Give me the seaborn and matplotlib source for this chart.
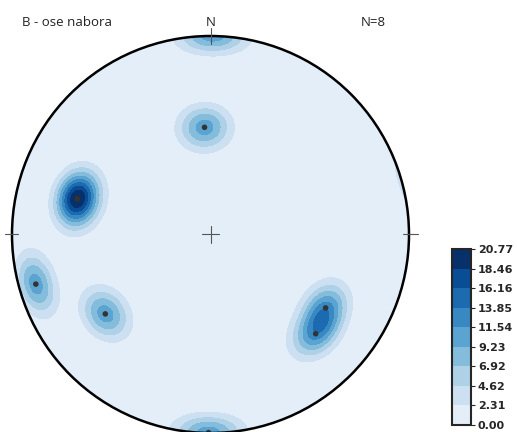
import numpy as np
import matplotlib
matplotlib.use("Agg")
import matplotlib.pyplot as plt
import seaborn as sns
from matplotlib.colors import ListedColormap, BoundaryNorm
from matplotlib.cm import ScalarMappable
from matplotlib.patches import Circle

# poles in the equal-area net (unit circle, x = east, y = north)
pole_x = [-0.03, -0.67, -0.67, -0.88, -0.53, 0.58, 0.53, -0.01]
pole_y = [0.54, 0.18, 0.18, -0.25, -0.40, -0.37, -0.50, -0.998]
title = "B - ose nabora"
n_label = "N=8"
dens_max = 20.772
n_bands = 9


def to_vec(x, y):
    # inverse Lambert equal-area, lower hemisphere
    x = np.asarray(x, float)
    y = np.asarray(y, float)
    rho = np.clip(np.hypot(x, y), 0, 1)
    theta = 2 * np.arcsin(rho / np.sqrt(2))
    phi = np.arctan2(y, x)
    return np.stack([np.sin(theta) * np.cos(phi),
                     np.sin(theta) * np.sin(phi),
                     -np.cos(theta)], axis=-1)


sns.set_style("white")
plt.rcParams['font.family'] = ['Open Sans', 'DejaVu Sans']

fig = plt.figure(figsize=(5.17, 4.32), dpi=100)
ax = fig.add_axes([12 / 517, -1 / 432, 397 / 517, 397 / 432])

# density grid (exponential kernel on the sphere, axial data)
g = np.linspace(-1, 1, 401)
gx, gy = np.meshgrid(g, g)
grid_vec = to_vec(gx, gy)
poles = to_vec(pole_x, pole_y)
k = 78.0
dens = np.zeros_like(gx)
for p in poles:
    c = np.abs(grid_vec @ p)
    dens += np.exp(k * (c - 1))
dens *= dens_max / 2
dens[np.hypot(gx, gy) > 1.0] = np.nan

levels = np.linspace(0, dens_max, n_bands + 1)
draw_levels = levels.copy()
draw_levels[-1] = max(levels[-1], np.nanmax(dens)) + 1e-6
colors = plt.cm.Blues(np.linspace(0.1, 1.0, n_bands))
cmap = ListedColormap(colors)

# background of the net, then the density bands clipped to it
ax.add_patch(Circle((0, 0), 1, fc=colors[0], ec="none", zorder=0))
cf = ax.contourf(gx, gy, dens, levels=draw_levels, colors=colors, zorder=1)
clip = Circle((0, 0), 1, transform=ax.transData)
cf.set_clip_path(clip)

sns.scatterplot(x=pole_x, y=pole_y, ax=ax, color="#333333", s=16,
                edgecolor="none", zorder=5, legend=False)

ax.add_patch(Circle((0, 0), 1, fill=False, ec="black", lw=1.8,
                    zorder=6, clip_on=False))
# centre cross and rim ticks
tick_kw = dict(color="#555555", lw=0.8, zorder=7, clip_on=False)
ax.plot([-0.045, 0.045], [0, 0], **tick_kw)
ax.plot([0, 0], [-0.045, 0.045], **tick_kw)
ax.plot([0, 0], [0.96, 1.04], **tick_kw)
ax.plot([-1.035, -0.97], [0, 0], **tick_kw)
ax.plot([0.97, 1.045], [0, 0], **tick_kw)

ax.set_xlim(-1, 1)
ax.set_ylim(-1, 1)
ax.set_aspect("equal")
ax.axis("off")

fig.text(22 / 517, 1 - 22 / 432, title, fontsize=9.5, va="center", ha="left",
         color="#222222")
fig.text(211 / 517, 1 - 22 / 432, "N", fontsize=9.5, va="center", ha="center",
         color="#222222")
fig.text(361 / 517, 1 - 22 / 432, n_label, fontsize=9.5, va="center",
         ha="left", color="#222222")

# colorbar
cax = fig.add_axes([452 / 517, 7 / 432, 19 / 517, 176 / 432])
sm = ScalarMappable(norm=BoundaryNorm(levels, n_bands), cmap=cmap)
cb = fig.colorbar(sm, cax=cax, ticks=levels)
cb.ax.set_yticklabels([f"{v:.2f}" for v in levels], fontsize=8,
                      fontweight="bold", family="DejaVu Sans")
cb.ax.tick_params(length=3, width=0.8, pad=2)
cb.outline.set_linewidth(1.5)

fig.savefig("out.png", dpi=100)
